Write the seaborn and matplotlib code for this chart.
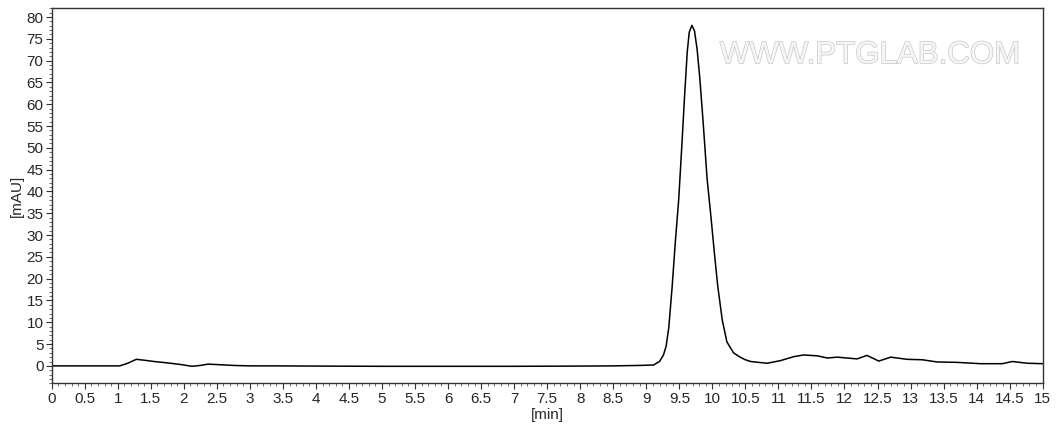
import numpy as np
import pandas as pd
import seaborn as sns
import matplotlib.pyplot as plt
from matplotlib.ticker import MultipleLocator
import matplotlib.patheffects as pe

# chromatogram points
time_min = [0.0, 1.03, 1.15, 1.28, 1.4, 1.55, 1.74, 1.96, 2.12, 2.25, 2.37, 2.5,
            2.75, 3.0, 3.35, 4.0, 5.0, 6.0, 7.0, 8.0, 8.5, 8.9, 9.11, 9.2, 9.26,
            9.30, 9.34, 9.39, 9.44, 9.49, 9.54, 9.58, 9.62, 9.65, 9.69, 9.73,
            9.77, 9.81, 9.86, 9.92, 9.98, 10.03, 10.08, 10.15, 10.22, 10.32,
            10.42, 10.5, 10.58, 10.7, 10.83, 11.03, 11.23, 11.38, 11.59, 11.74,
            11.89, 12.19, 12.34, 12.52, 12.70, 12.95, 13.18, 13.4, 13.71, 14.06,
            14.39, 14.54, 14.77, 15.0]
signal_mau = [0.0, 0.0, 0.6, 1.5, 1.3, 1.0, 0.7, 0.3, -0.1, 0.1, 0.4, 0.3,
              0.1, 0.0, 0.0, -0.05, -0.1, -0.1, -0.1, -0.05, 0.0, 0.1, 0.2, 1.0,
              2.5, 4.5, 8.7, 17.9, 28.5, 38.0, 51.0, 62.0, 72.0, 76.5, 78.1, 76.8,
              72.5, 66.0, 56.0, 43.0, 34.0, 26.0, 18.5, 10.5, 5.5, 3.0,
              2.0, 1.4, 1.0, 0.8, 0.6, 1.2, 2.1, 2.5, 2.3, 1.8,
              2.0, 1.6, 2.4, 1.1, 2.0, 1.5, 1.4, 0.9, 0.8, 0.5,
              0.5, 1.0, 0.6, 0.5]

df = pd.DataFrame({"time": time_min, "signal": signal_mau})

sns.set_style("ticks")
plt.rcParams["font.family"] = ["Liberation Sans", "DejaVu Sans"]

fig = plt.figure(figsize=(10.58, 4.32), dpi=100)
ax = fig.add_axes([0.0489, 0.1127, 0.9366, 0.8681])

sns.lineplot(data=df, x="time", y="signal", ax=ax, color="black", linewidth=1.1)

ax.set_xlim(0, 15)
ax.set_ylim(-4, 82)
ax.xaxis.set_major_locator(MultipleLocator(0.5))
ax.xaxis.set_minor_locator(MultipleLocator(0.1))
ax.yaxis.set_major_locator(MultipleLocator(5))
ax.yaxis.set_minor_locator(MultipleLocator(1))
ax.xaxis.set_major_formatter(plt.FuncFormatter(lambda v, p: f"{v:g}"))

ax.tick_params(which="major", direction="out", length=4, width=0.8,
               labelsize=11, pad=2, color="#333333")
ax.tick_params(which="minor", direction="out", length=2, width=0.6, color="#555555")
for s in ax.spines.values():
    s.set_color("#333333")
    s.set_linewidth(1.0)

ax.set_xlabel("[min]", fontsize=11, labelpad=2)
ax.set_ylabel("[mAU]", fontsize=11, labelpad=2)

# faint embossed watermark
ax.text(0.826, 0.875, "WWW.PTGLAB.COM", transform=ax.transAxes,
        ha="center", va="center", fontsize=22.5, color="#f6f6f6",
        path_effects=[pe.withStroke(linewidth=1.0, foreground="#c8c8c8")])

fig.savefig("out.png", dpi=100)
